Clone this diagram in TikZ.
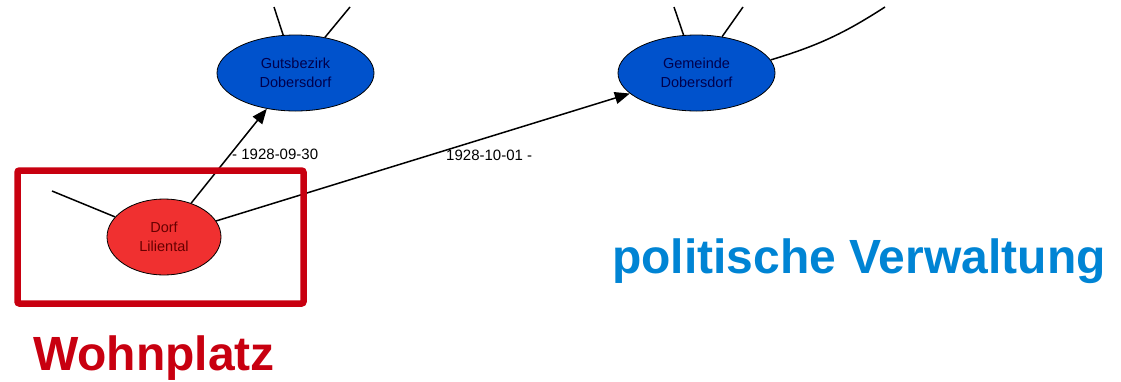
\documentclass[tikz,border=0pt]{standalone}
\usepackage{fontspec}
\setmainfont{Liberation Sans}
\usepackage{tikz}
\usetikzlibrary{arrows.meta,shapes.geometric}
\definecolor{ortblau}{RGB}{0,82,204}
\definecolor{ortrot}{RGB}{240,48,48}
\definecolor{rahmenrot}{RGB}{200,0,16}
\definecolor{titelblau}{RGB}{0,132,212}
\tikzset{
    verwaltung/.style={
           ellipse,
           draw=black, thick,
           fill=ortblau,
           text=blue!30!black,
           minimum width=157, minimum height=76,
           inner sep=0pt,
           align=center,
           font=\fontsize{14.5}{19}\selectfont,
           },
}
\tikzset{
    wohnplatz/.style={
           ellipse,
           draw=black, thick,
           fill=ortrot,
           text=red!40!black,
           minimum width=114, minimum height=76,
           inner sep=0pt,
           align=center,
           font=\fontsize{14.5}{19}\selectfont,
           },
}
\tikzset{
    kante/.style={draw=black, line width=1.5pt},
    pfeil/.style={kante, -{Triangle[length=15pt,width=12pt]}},
    datum/.style={font=\fontsize{15}{17}\selectfont, inner sep=1pt},
}

\begin{document}
\begin{tikzpicture}[x=1pt,y=-1pt]
\useasboundingbox (0,0) rectangle (1121,381);
\node[verwaltung](guts) at (295.5,73){Gutsbezirk\\Dobersdorf};
\node[verwaltung](gem) at (696.5,73){Gemeinde\\Dobersdorf};
\node[wohnplatz](dorf) at (164,237){Dorf\\Liliental};
% lose Enden
\coordinate (g1) at (274,7);
\coordinate (g2) at (350,7);
\coordinate (m1) at (674,7);
\coordinate (m2) at (743,7);
\coordinate (m3) at (885,7);
\coordinate (d1) at (52,191);
\draw[kante] (guts) -- (g1);
\draw[kante] (guts) -- (g2);
\draw[kante] (gem) -- (m1);
\draw[kante] (gem) -- (m2);
\draw[kante] (gem.10) to[bend right=8] (m3);
\draw[kante] (dorf) -- (d1);
% Pfeile
\draw[pfeil] (dorf) -- node[datum,pos=0.52,anchor=west]{- 1928-09-30} (guts);
\draw[pfeil] (dorf) -- node[datum,pos=0.66,anchor=north,yshift=-11pt]{1928-10-01 -} (gem);
% Rahmen und Titel
\draw[rahmenrot, line width=6.5pt, rounded corners=2pt] (17.5,170.5) rectangle (303.5,303.5);
\node[text=rahmenrot, font=\fontsize{48}{52}\selectfont\bfseries, anchor=base west, inner sep=0pt](titel1) at (33,370){Wohnplatz};
\node[text=titelblau, font=\fontsize{48}{52}\selectfont\bfseries, anchor=base west, inner sep=0pt](titel2) at (612,273){politische Verwaltung};
\end{tikzpicture}
\end{document}
